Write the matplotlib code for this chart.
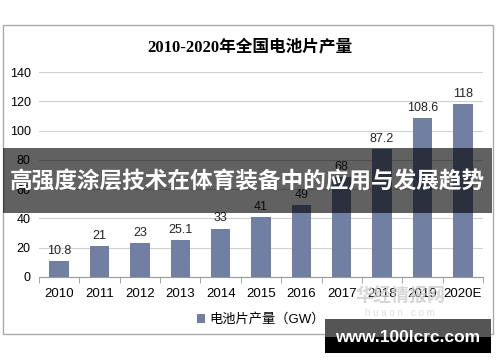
import matplotlib.pyplot as plt
import numpy as np
from matplotlib.patches import Rectangle

plt.rcParams['font.family'] = ['Liberation Sans', 'Noto Sans CJK SC', 'DejaVu Sans']

years = ['2010', '2011', '2012', '2013', '2014', '2015', '2016', '2017', '2018', '2019', '2020E']
output_gw = [10.8, 21, 23, 25.1, 33, 41, 49, 68, 87.2, 108.6, 118]
value_labels = ['10.8', '21', '23', '25.1', '33', '41', '49', '68', '87.2', '108.6', '118']

index = np.arange(len(years))
bar_color = '#717FA3'

fig = plt.figure(figsize=(5, 3.62), dpi=100)
ax = fig.add_axes([0.078, 0.235, 0.888, 0.566])

ax.bar(index, output_gw, width=0.48, color=bar_color, label='电池片产量（GW）', zorder=3)
for i, v in enumerate(output_gw):
    ax.text(i, v + 3, value_labels[i], ha='center', va='bottom', fontsize=9, color='#222222', zorder=4)

ax.set_ylim(0, 140)
ax.set_xlim(-0.5, len(years) - 0.5)
ax.yaxis.set_major_locator(plt.MultipleLocator(20))
ax.grid(axis='y', color='#d0d0d0', linewidth=0.8, zorder=0)
ax.set_xticks(index)
ax.set_xticklabels(years, fontsize=9.5)
ax.set_xticks(np.arange(-0.5, len(years)), minor=True)
ax.tick_params(axis='x', which='major', length=0, pad=8)
ax.tick_params(axis='x', which='minor', length=4, color='#999999')
ax.tick_params(axis='y', length=0, labelsize=9, pad=6)
for s in ['top', 'right', 'left']:
    ax.spines[s].set_visible(False)
ax.spines['bottom'].set_color('#999999')

ax.legend(loc='upper center', bbox_to_anchor=(0.5, -0.12), frameon=False, fontsize=9.5,
          handlelength=0.6, handleheight=0.6, handletextpad=0.3)

fig.text(0.5, 1 - 47 / 362, '2010-2020年全国电池片产量', ha='center', va='center',
         fontsize=12, fontweight='bold', family=['Liberation Serif', 'Noto Sans CJK SC'])

# chart border
fig.patches.append(Rectangle((3 / 500, 1 - 334 / 362), 490 / 500, 309 / 362, transform=fig.transFigure,
                             fill=False, edgecolor='#aaaaaa', linewidth=1))

# watermark
fig.text(0.8, 1 - 296 / 362, '华经情报网', ha='center', va='center', fontsize=13, fontweight='bold',
         color='#cccccc', alpha=0.8, family=['Noto Sans CJK SC'])
fig.text(0.8, 1 - 313 / 362, 'h u a o n . c o m', ha='center', va='center', fontsize=7, color='#dddddd')

# banner
fig.patches.append(Rectangle((3 / 500, 1 - 213 / 362), 489 / 500, 65 / 362, transform=fig.transFigure,
                             facecolor='#000000', alpha=0.62, edgecolor='none', zorder=10))
fig.text(0.494, 1 - 182 / 362, '高强度涂层技术在体育装备中的应用与发展趋势', ha='center', va='center',
         fontsize=16.3, fontweight='bold', color='white', family=['Noto Sans CJK SC'], zorder=11)

# site box
fig.patches.append(Rectangle((325 / 500, 1 - 353 / 362), 166 / 500, 34 / 362, transform=fig.transFigure,
                             facecolor='#000000', edgecolor='none', zorder=10))
fig.patches.append(Rectangle((325 / 500, 1 - 337 / 362), 166 / 500, 18 / 362, transform=fig.transFigure,
                             facecolor='#555555', edgecolor='none', zorder=10))
fig.text(408 / 500, 1 - 337 / 362, 'www.100lcrc.com', ha='center', va='center', fontsize=12.5,
         fontweight='bold', color='white', zorder=11)

plt.savefig('out.png', dpi=100)
